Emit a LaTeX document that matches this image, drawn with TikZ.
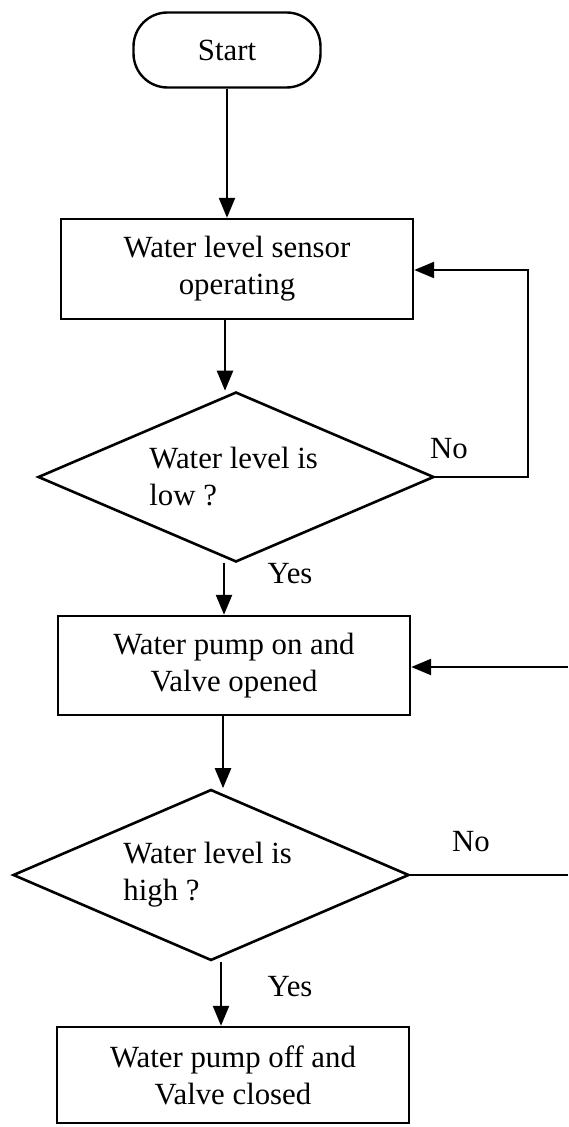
\documentclass[tikz,border=0pt]{standalone}
\usepackage{fontspec}
\setmainfont{Liberation Serif}
\usetikzlibrary{shapes.geometric,arrows.meta}
\begin{document}
\begin{tikzpicture}[x=0.5pt,y=-0.5pt,
  every node/.style={font=\fontsize{15.4}{18.5}\selectfont},
  line/.style={line width=1.2pt},
  arr/.style={line width=1.2pt,-{Triangle[width=8pt,length=10pt]}},
  term/.style={draw,line width=1.2pt,rounded corners=17pt,minimum width=93.5pt,minimum height=37.5pt,inner sep=0pt},
  proc/.style={draw,line width=1.2pt,minimum width=176pt,minimum height=50pt,inner sep=0pt,align=center},
  dec/.style={draw,line width=1.3pt,diamond,inner sep=0pt,minimum width=198pt,minimum height=85pt},
  lbl/.style={inner sep=0pt}]
\useasboundingbox (0,0) rectangle (568,1127);
\node[term] (start) at (227,50) {Start};
\node[proc] (box1) at (237,269) {Water level sensor\\operating};
\node[dec] (d1) at (236,477) {};
\node[lbl,anchor=west,align=left] (d1t) at (149,477) {Water level is\\low ?};
\node[proc,minimum height=49.5pt] (box2) at (234,665.5) {Water pump on and\\Valve opened};
\node[dec,minimum height=85.5pt] (d2) at (211,875) {};
\node[lbl,anchor=west,align=left] (d2t) at (123,875) {Water level is\\high ?};
\node[proc,minimum height=48pt] (box3) at (233,1075) {Water pump off and\\Valve closed};
\node[lbl] (no1) at (449,449) {No};
\node[lbl] (yes1) at (290,574) {Yes};
\node[lbl] (no2) at (471,842) {No};
\node[lbl] (yes2) at (290,987) {Yes};
\coordinate (c1) at (528,270);
\coordinate (e1) at (568,875);
\coordinate (e2) at (568,667);
\draw[arr] (start.south) -- (start.south |- box1.north);
\draw[arr] (box1.south -| 225,0) -- (d1.north -| 225,0);
\draw[arr] (d1.east) -- (c1 |- d1.east) -- (c1) -- (box1.east |- c1);
\draw[arr] (d1.south -| 224,0) -- (box2.north -| 224,0);
\draw[arr] (box2.south -| 223,0) -- (d2.north -| 223,0);
\draw[line] (d2.east) -- (e1);
\draw[arr] (e2) -- (box2.east |- e2);
\draw[arr] (d2.south -| 221,0) -- (box3.north -| 221,0);
\end{tikzpicture}
\end{document}
